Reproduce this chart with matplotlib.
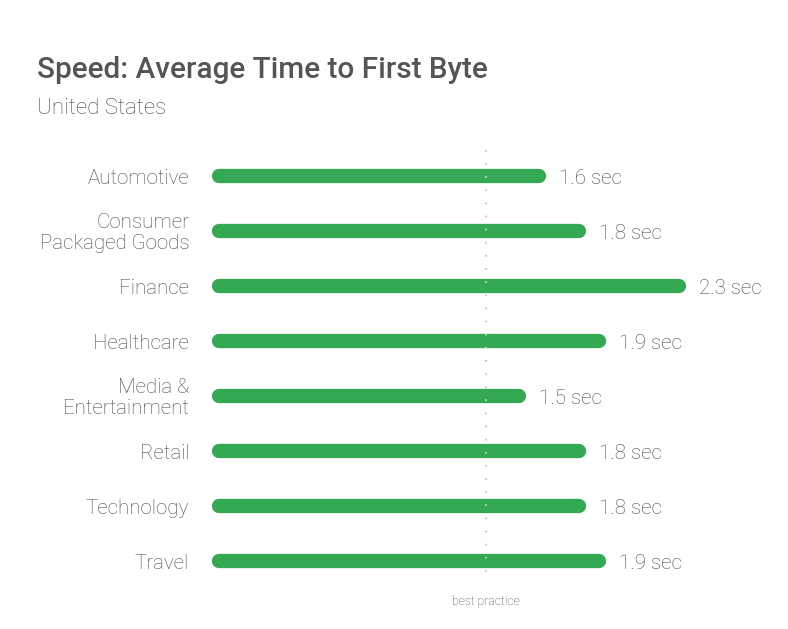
import matplotlib
matplotlib.use("Agg")
from matplotlib import pyplot as plt

categories = ['Automotive', 'Consumer\nPackaged Goods', 'Finance', 'Healthcare',
              'Media &\nEntertainment', 'Retail', 'Technology', 'Travel']
seconds = [1.6, 1.8, 2.3, 1.9, 1.5, 1.8, 1.8, 1.9]
value_labels = ['1.6 sec', '1.8 sec', '2.3 sec', '1.9 sec', '1.5 sec', '1.8 sec', '1.8 sec', '1.9 sec']
best_practice = 1.335

green = '#34a853'
grey = '#4a4a4a'

plt.rcParams['font.family'] = ['Roboto', 'DejaVu Sans']

fig = plt.figure(figsize=(7.88, 6.29), dpi=100)
fig.patch.set_facecolor('white')
# axes: x in seconds (200 px per sec), rows every 55 px starting at y=176
ax = fig.add_axes([219 / 788, 0, 569 / 788, 1])
ax.set_xlim(0, 569 / 200)
ax.set_ylim((629 - 176) / 55, -176 / 55)
ax.axis('off')

for i, (v, lab) in enumerate(zip(seconds, value_labels)):
    ax.plot([0, v], [i, i], color=green, linewidth=10.3, solid_capstyle='round',
            zorder=2, clip_on=False)
    ax.annotate(lab, (v, i), xytext=(14.5, -1.5), textcoords='offset points',
                ha='left', va='center', fontsize=14.8, color=grey, fontweight='light')
    ax.annotate(categories[i], (0, i), xytext=(-21.5, -1.5), textcoords='offset points',
                ha='right', va='center', fontsize=14.8, color=grey, fontweight='light',
                linespacing=1.15)

ax.plot([best_practice, best_practice], [-26 / 55, 406 / 55], color='#c8c8c8',
        linewidth=1.5, linestyle=(0, (0.8, 5.5)), zorder=3, clip_on=False)
ax.text(best_practice, 426 / 55, 'best practice', ha='center', va='center',
        fontsize=8.8, color=grey, fontweight='light')

fig.text(37 / 788, 1 - 70 / 629, 'Speed: Average Time to First Byte', ha='left', va='center',
         fontsize=21.4, color='#555555', fontweight='medium')
fig.text(37 / 788, 1 - 108 / 629, 'United States', ha='left', va='center',
         fontsize=16, color=grey, fontweight='light')

fig.savefig('out.png', dpi=100)
